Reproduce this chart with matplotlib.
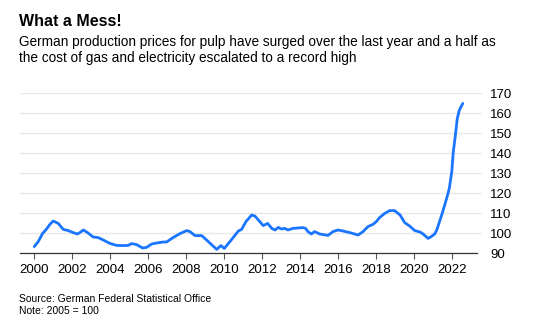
import numpy as np
import matplotlib
matplotlib.use('Agg')
from matplotlib import pyplot as plt

plt.rcParams['font.family'] = ['Liberation Sans', 'DejaVu Sans']

# values (2005 = 100)
years = [2000.0, 2000.21, 2000.44, 2000.65, 2000.82, 2001.0, 2001.26, 2001.53, 2001.79,
         2002.05, 2002.26, 2002.4, 2002.58, 2002.79, 2003.1, 2003.37, 2003.63, 2003.98,
         2004.33, 2004.68, 2004.95, 2005.12, 2005.39, 2005.7, 2005.91, 2006.18, 2006.44,
         2006.79, 2006.96, 2007.32, 2007.67, 2008.02, 2008.19, 2008.46, 2008.81, 2009.16,
         2009.6, 2009.82, 2010.0, 2010.39, 2010.74, 2010.91, 2011.14, 2011.44, 2011.61,
         2012.05, 2012.28, 2012.5, 2012.67, 2012.84, 2013.0, 2013.18, 2013.35, 2013.61,
         2014.14, 2014.28, 2014.4, 2014.58, 2014.75, 2015.02, 2015.46, 2015.72, 2015.98,
         2016.25, 2016.6, 2017.04, 2017.3, 2017.56, 2017.82, 2018.0, 2018.18, 2018.44,
         2018.7, 2018.96, 2019.25, 2019.49, 2019.75, 2020.02, 2020.3, 2020.46, 2020.72,
         2020.89, 2021.07, 2021.18, 2021.44, 2021.7, 2021.84, 2021.97, 2022.05, 2022.14,
         2022.26, 2022.37, 2022.55]
prices = [93.2, 95.7, 99.8, 102, 104.3, 106, 104.8, 101.8, 101.2,
          100.2, 99.5, 100.2, 101.5, 100.3, 98, 97.7, 96.5, 94.8,
          93.8, 93.7, 93.8, 94.7, 94.2, 92.5, 92.8, 94.5, 95,
          95.5, 95.5, 97.8, 99.7, 101.2, 100.7, 98.7, 98.7, 95.7,
          91.8, 93.7, 92.3, 96.8, 101, 101.8, 105.7, 109, 108.5,
          103.7, 104.8, 102.3, 101.5, 102.8, 102, 102.3, 101.5, 102.3,
          102.7, 102.3, 100.7, 99.5, 100.7, 99.5, 98.8, 100.7, 101.5,
          101, 100.2, 99, 100.7, 103.2, 104.3, 105.7, 107.8, 109.8,
          111.2, 111.2, 109, 105.2, 103.5, 101.2, 100.5, 99.5, 97.3,
          98.2, 99.5, 101.5, 109, 117.3, 122.3, 130.7, 140.7, 147.3,
          157.3, 161.5, 164.8]

xticks = list(range(2000, 2023, 2))
yticks = list(range(90, 171, 10))

fig = plt.figure(figsize=(5.38, 3.29), dpi=100)
ax = fig.add_axes([20/538, 76/329, 462/538, 160/329])

ax.plot(years, prices, color='#1a75ff', lw=2.0, solid_capstyle='round', zorder=3)

ax.set_xlim(1999.25, 2023.56)
ax.set_ylim(90, 170)
ax.set_xticks(xticks)
ax.set_yticks(yticks)
ax.yaxis.tick_right()
ax.tick_params(axis='y', length=0, pad=6, labelsize=9.5)
ax.tick_params(axis='x', length=4, width=0.8, color='#555555', pad=4, labelsize=9.5)
for s in ['top', 'left', 'right']:
    ax.spines[s].set_visible(False)
ax.spines['bottom'].set_bounds(1999.25, 2023.28)
ax.spines['bottom'].set_color('#333333')
ax.spines['bottom'].set_linewidth(0.9)
ax.grid(axis='y', color='#e8e8e8', lw=1)
ax.set_axisbelow(True)
for lbl in ax.get_yticklabels():
    lbl.set_horizontalalignment('left')

fig.text(19/538, 1 - 22/329, 'What a Mess!', fontsize=11.5, fontweight='bold', va='center')
fig.text(19/538, 1 - 42/329, 'German production prices for pulp have surged over the last year and a half as',
         fontsize=9.8, va='center')
fig.text(19/538, 1 - 58/329, 'the cost of gas and electricity escalated to a record high',
         fontsize=9.8, va='center')
fig.text(19/538, 1 - 299/329, 'Source: German Federal Statistical Office', fontsize=7.5, va='center')
fig.text(19/538, 1 - 310.5/329, 'Note: 2005 = 100', fontsize=7.5, va='center')

fig.savefig('out.png', dpi=100)
